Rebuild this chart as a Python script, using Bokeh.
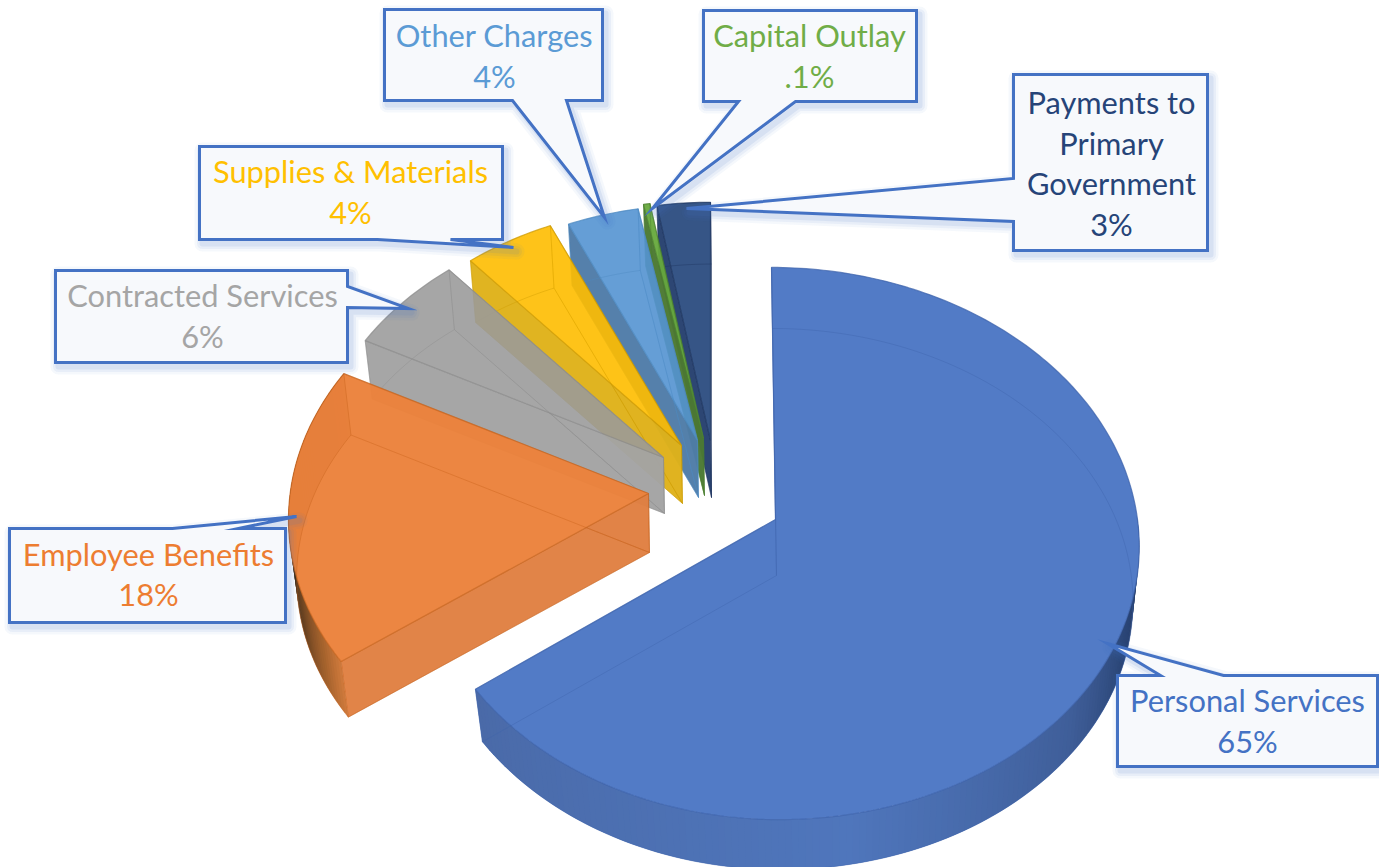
import math
from bokeh.plotting import figure
from bokeh.models import Range1d
from bokeh.core.properties import value
from bokeh.embed import file_html
from bokeh.resources import INLINE

# ---- data ----------------------------------------------------------------
categories = ["Personal Services", "Employee Benefits", "Contracted Services",
              "Supplies & Materials", "Other Charges", "Capital Outlay",
              "Payments to Primary Government"]
shares = [65.0, 17.6, 6.05, 4.6, 3.7, 0.33, 2.72]        # slice sizes as drawn
share_labels = ["65%", "18%", "6%", "4%", "4%", ".1%", "3%"]

# ---- style ---------------------------------------------------------------
base_colors = ["#4472C4", "#ED7D31", "#A5A5A5", "#FFC000", "#5B9BD5", "#70AD47", "#264478"]
face_colors = ["#527BC6", "#EC8642", "#A6A6A6", "#FEC317", "#659FD6", "#6FAD47", "#365585"]
cut_colors = ["#4A72BA", "#E08042", "#A3A3A3", "#DFB21A", "#4F7CA8", "#4C7A33", "#26406E"]
edge_colors = ["#3F64AC", "#C8651F", "#8C8C8C", "#CC9A00", "#4E8AC0", "#4C8030", "#1E3560"]
face_alpha = [1.0, 0.97, 0.88, 0.9, 0.9, 0.95, 0.95]

# ---- pie layout (pixels of the picture) ----------------------------------
apex_x = [775, 648, 663, 681, 697, 703, 710]
apex_y = [519, 493, 457, 445, 440, 438, 440]
radial = [1.0, 0.99, 0.965, 0.95, 0.935, 0.945, 0.945]
left_scale = [0.98, 1, 1, 1, 1, 1, 1]
skew = [-4, 3, 0, 0, 0, 0, 0]
depth = [56, 59, 56, 58, 57, 57, 57]
RX, RY, PERSP, BOTTOM = 362.0, 274.0, 0.087, 0.98

p = figure(width=1379, height=867, output_backend="svg", toolbar_location=None,
           x_range=Range1d(0, 1379), y_range=Range1d(867, 0), min_border=0,
           background_fill_color="white", border_fill_color="white")
p.axis.visible = False
p.grid.visible = False
p.outline_line_color = None


def project(cx, cy, s, theta, i):
    t = math.radians(theta)
    X, Y = math.sin(t), math.cos(t)
    w = 1 + PERSP * Y
    sx = s * (left_scale[i] if X < 0 else 1.0)
    return cx + sx * RX * X / w + skew[i] * Y, cy - s * RY * Y / w


def arc(cx, cy, s, a0, a1, i):
    n = max(2, int(abs(a1 - a0)) + 1)
    return [project(cx, cy, s, a0 + (a1 - a0) * j / n, i) for j in range(n + 1)]


def mix(c0, c1, f):
    a = [int(c0[i:i + 2], 16) for i in (1, 3, 5)]
    b = [int(c1[i:i + 2], 16) for i in (1, 3, 5)]
    return "#%02x%02x%02x" % tuple(round(u + (v - u) * f) for u, v in zip(a, b))


def stop_color(stops, th):
    for (t0, c0), (t1, c1) in zip(stops, stops[1:]):
        if t0 <= th <= t1:
            return mix(c0, c1, (th - t0) / (t1 - t0))
    return stops[-1][1]


def see_through(color, alpha):
    """Colour that shows as `color` when painted with `alpha` on white."""
    c = [int(color[i:i + 2], 16) for i in (1, 3, 5)]
    return "#%02x%02x%02x" % tuple(max(0, round((u - (1 - alpha) * 255) / alpha)) for u in c)


arc_wall_stops = {
    0: [(90, "#1f3560"), (112, "#2c4778"), (130, "#3f5e99"), (170, "#4f76bc"), (234, "#4a6aa8")],
    1: [(234, "#d07a3c"), (240, "#a8642e"), (250, "#6e4522"), (262, "#3e2c1a"), (300, "#5a3a20")],
}

starts = []
acc = 0.0
total = sum(shares)
for v in shares:
    starts.append(acc)
    acc += v / total * 360.0

# back to front: the last slice is the farthest one
for i in reversed(range(len(shares))):
    a0 = starts[i]
    a1 = a0 + shares[i] / total * 360.0
    cx, cy, s, d = apex_x[i], apex_y[i], radial[i], depth[i]
    bx, by = cx + 1, cy + d
    top_arc = arc(cx, cy, s, a0, a1, i)
    bot_arc = arc(bx, by, s * BOTTOM, a0, a1, i)

    # the two cut walls: the lower one faces the viewer, the upper one only shows through
    for tp, bt, alpha in ((top_arc[0], bot_arc[0], 0.97), (top_arc[-1], bot_arc[-1], 0.1)):
        poly = [(cx, cy), tp, bt, (bx, by)]
        p.patch([q[0] for q in poly], [q[1] for q in poly], fill_color=cut_colors[i], fill_alpha=alpha,
                line_color=edge_colors[i], line_alpha=0.4, line_width=1)

    # rim, shaded along the arc
    if i in arc_wall_stops:
        xs, ys, cols = [], [], []
        for j in range(len(top_arc) - 1):
            th = a0 + (a1 - a0) * (j + 0.5) / (len(top_arc) - 1)
            if th < 90 or th > 300:
                continue
            k = min(j + 2, len(top_arc) - 1)
            xs.append([top_arc[j][0], top_arc[k][0], bot_arc[k][0], bot_arc[j][0]])
            ys.append([top_arc[j][1], top_arc[k][1], bot_arc[k][1], bot_arc[j][1]])
            cols.append(stop_color(arc_wall_stops[i], th))
        p.patches(xs, ys, fill_color=cols, line_color=None)

    # top face
    poly = [(cx, cy)] + top_arc
    p.patch([q[0] for q in poly], [q[1] for q in poly],
            fill_color=see_through(face_colors[i], face_alpha[i]), fill_alpha=face_alpha[i],
            line_color=edge_colors[i], line_alpha=0.75, line_width=1.2)

    # outline of the hidden lower face, seen through the top
    poly = [(bx, by)] + bot_arc + [(bx, by)]
    p.line([q[0] for q in poly], [q[1] for q in poly], line_color=edge_colors[i], line_alpha=0.4, line_width=1)
    for tp, bt in ((top_arc[0], bot_arc[0]), (top_arc[-1], bot_arc[-1]), ((cx, cy), (bx, by))):
        p.line([tp[0], bt[0]], [tp[1], bt[1]], line_color=edge_colors[i], line_alpha=0.4, line_width=1)

# ---- callouts (pixels of the picture) ------------------------------------
callouts = {
    0: [(1117, 675), (1160, 675), (1107, 643), (1223, 675), (1377, 675), (1377, 766), (1117, 766)],
    1: [(9, 528), (172, 528), (296, 516), (238, 528), (285, 528), (285, 622), (9, 622)],
    2: [(55, 270), (347, 270), (347, 286), (408, 308), (347, 307), (347, 362), (55, 362)],
    3: [(199, 146), (502, 146), (502, 239), (450, 239), (513, 247), (377, 239), (199, 239)],
    4: [(384, 9), (602, 9), (602, 100), (566, 100), (604, 217), (512, 100), (384, 100)],
    5: [(703, 10), (916, 10), (916, 101), (795, 101), (652, 208), (738, 101), (703, 101)],
    6: [(1013, 74), (1207, 74), (1207, 250), (1013, 250), (1013, 221), (686, 208), (1013, 178)],
}
label_lines = {
    0: ["Personal Services"], 1: ["Employee Benefits"], 2: ["Contracted Services"],
    3: ["Supplies & Materials"], 4: ["Other Charges"], 5: ["Capital Outlay"],
    6: ["Payments to", "Primary", "Government"],
}
label_x = [1247, 148, 202, 350, 494, 809, 1111]
label_y = [[700, 741], [554, 594], [295, 336], [171, 212], [35, 76], [35, 76], [102, 143, 183, 224]]
BOX_FILL, BOX_LINE = "#F7F9FC", "#4472C4"

for i, pts in callouts.items():
    xs, ys = [q[0] for q in pts], [q[1] for q in pts]
    for w, alpha in ((16, 0.05), (11, 0.07), (6, 0.10)):
        p.patch([x + 3 for x in xs], [y + 4 for y in ys], fill_alpha=0, line_color=BOX_LINE,
                line_alpha=alpha, line_width=w, line_join="round")
for i, pts in callouts.items():
    p.patch([q[0] for q in pts], [q[1] for q in pts], fill_color=BOX_FILL, line_color=BOX_LINE,
            line_width=3, line_join="miter")
    lines = label_lines[i] + [share_labels[i]]
    p.text([label_x[i]] * len(lines), label_y[i], text=lines, text_color=base_colors[i],
           text_font=value("Lato"), text_font_size="30.8px", text_align="center",
           text_baseline="middle")

open("out.html", "w").write(file_html(p, INLINE))
